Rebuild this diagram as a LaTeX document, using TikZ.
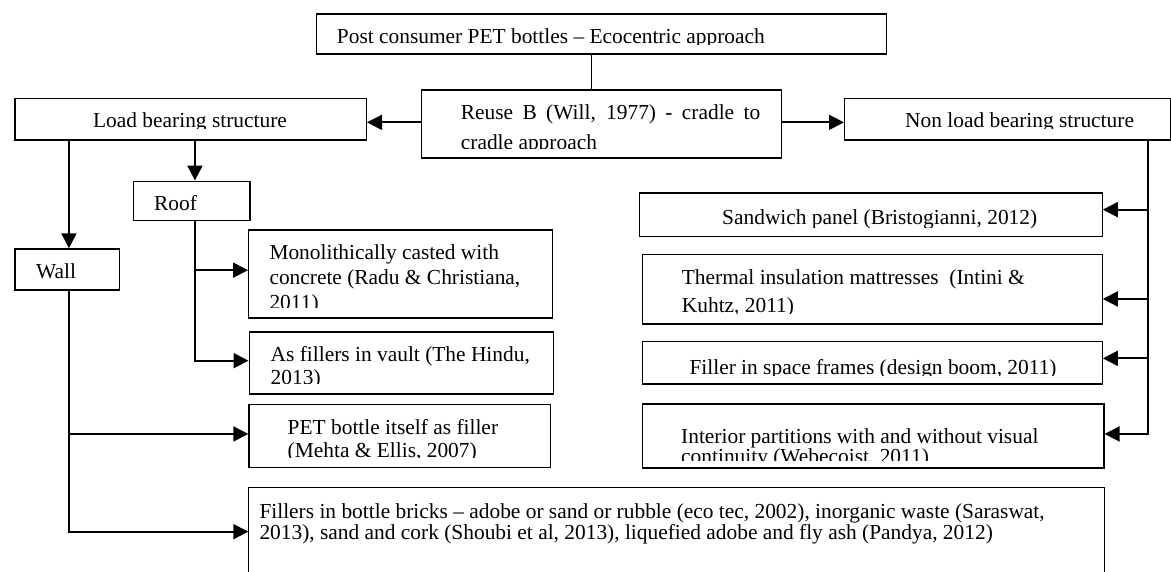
\documentclass[tikz,border=0pt]{standalone}
\usepackage{fontspec}
\setmainfont{Liberation Serif}
\usetikzlibrary{arrows.meta}
\tikzset{
  box/.style={draw, line width=1.3pt, inner sep=0pt, anchor=north west},
  conn/.style={line width=1.6pt},
  arr/.style={line width=1.9pt, -{Triangle[length=15pt,width=15pt]}},
  txt/.style={inner sep=0pt, anchor=base west, font=\fontsize{21.4}{24}\selectfont},
}
\newcommand{\mylines}[2]{\parbox[t]{840pt}{\raggedright\fontsize{21.4}{#1}\selectfont #2}}
\begin{document}
\begin{tikzpicture}[x=1pt,y=-1pt]
\path[fill=white,use as bounding box] (0,0) rectangle (1171,571);

% boxes
\node[box, minimum width=570.3pt, minimum height=40pt]   (top)      at (315.7,13.3) {};
\node[box, minimum width=360.3pt, minimum height=68pt]   (reuse)    at (420.7,89.3) {};
\node[box, minimum width=351.4pt, minimum height=41.6pt] (load)     at (14.3,97.7) {};
\node[box, minimum width=325.5pt, minimum height=41.6pt] (nonload)  at (844,97.7) {};
\node[box, minimum width=116.3pt, minimum height=39.5pt] (roof)     at (133,180.5) {};
\node[box, minimum width=104.2pt, minimum height=41pt]   (wall)     at (14.3,248.3) {};
\node[box, minimum width=303.7pt, minimum height=88pt]   (mono)     at (248,229.3) {};
\node[box, minimum width=304pt,   minimum height=62pt]   (hindu)    at (248.5,331.3) {};
\node[box, minimum width=301.7pt, minimum height=63pt]   (pet)      at (248.3,404) {};
\node[box, draw=none, minimum width=855pt, minimum height=83.7pt] (fillers) at (248.3,487.3) {};
\draw[line width=1.3pt] (fillers.south west) -- (fillers.north west) -- (fillers.north east) -- (fillers.south east);
\node[box, minimum width=463pt,   minimum height=43.7pt] (sandwich) at (638.5,192.3) {};
\node[box, minimum width=460pt,   minimum height=69.3pt] (thermal)  at (641.5,254) {};
\node[box, minimum width=460pt,   minimum height=42.6pt] (filler)   at (641.5,340.7) {};
\node[box, minimum width=461.8pt, minimum height=64pt]   (interior) at (641.5,403.3) {};

% texts
\begin{scope}\clip (315.7,13.3) rectangle (886,44.8);
\node[txt] (ttop) at (336.7,43.4) {Post consumer PET bottles – Ecocentric approach};
\end{scope}
\begin{scope}\clip (420.7,89.3) rectangle (781,148.8);
\node[txt] (treuse) at (460.7,119.3) {\parbox[t]{300pt}{\fontsize{21.4}{30}\selectfont\makebox[299.3pt][s]{Reuse B (Will, 1977) - cradle to}\\cradle approach}};
\end{scope}
\begin{scope}\clip (14.3,97.7) rectangle (365.7,128.8);
\node[txt, anchor=base] (tload) at (190,127.6) {Load bearing structure};
\end{scope}
\begin{scope}\clip (844,97.7) rectangle (1169.5,128.8);
\node[txt] (tnon) at (905,127.6) {Non load bearing structure};
\end{scope}
\node[txt] (troof) at (154,210) {Roof};
\node[txt] (twall) at (36,278.3) {Wall};
\begin{scope}\clip (248,229.3) rectangle (551.7,307);
\node[txt] (tmono) at (269.3,259) {\mylines{25}{Monolithically casted with\\concrete (Radu \& Christiana,\\2011)}};
\end{scope}
\begin{scope}\clip (248.5,331.3) rectangle (552.5,383.5);
\node[txt] (thindu) at (270.5,361.3) {\mylines{23.5}{As fillers in vault (The Hindu,\\2013)}};
\end{scope}
\begin{scope}\clip (248.3,404) rectangle (550,457.5);
\node[txt] (tpet) at (287.5,434.3) {\mylines{23}{PET bottle itself as filler\\(Mehta \& Ellis, 2007)}};
\end{scope}
\node[txt] (tfillers) at (259.3,518.3) {\mylines{21.5}{Fillers in bottle bricks – adobe or sand or rubble (eco tec, 2002), inorganic waste (Saraswat,\\2013), sand and cork (Shoubi et al, 2013), liquefied adobe and fly ash (Pandya, 2012)}};
\begin{scope}\clip (638.5,192.3) rectangle (1101.5,227.3);
\node[txt] (tsandwich) at (722,224.5) {Sandwich panel (Bristogianni, 2012)};
\end{scope}
\begin{scope}\clip (641.5,254) rectangle (1101.5,313);
\node[txt] (tthermal) at (681.7,284.3) {\mylines{28.5}{Thermal insulation mattresses\ \ (Intini \&\\Kuhtz, 2011)}};
\end{scope}
\begin{scope}\clip (641.5,340.7) rectangle (1101.5,375.2);
\node[txt] (tfiller) at (689.3,374.3) {Filler in space frames (design boom, 2011)};
\end{scope}
\begin{scope}\clip (641.5,403.3) rectangle (1103.3,460);
\node[txt] (tinterior) at (681,443.3) {\mylines{20.5}{Interior partitions with and without visual\\continuity (Webecoist, 2011)}};
\end{scope}

% connectors
\draw[conn] ([xshift=-9.85pt]top.south) -- ([xshift=-9.85pt]top.south |- reuse.north);
\draw[arr] ([yshift=1.6pt]reuse.west) -- ([yshift=1.6pt]reuse.west -| load.east);
\draw[arr] ([yshift=1.6pt]reuse.east) -- ([yshift=1.6pt]reuse.east -| nonload.west);
\draw[arr] ([xshift=1.9pt]wall.north |- load.south) -- ([xshift=1.9pt]wall.north);
\draw[arr] ([xshift=3.15pt]roof.north |- load.south) -- ([xshift=3.15pt]roof.north);
\draw[arr] ([xshift=3.15pt]roof.south) |- ([yshift=3.8pt]mono.west);
\draw[arr] ([xshift=3.15pt]roof.south) |- ([yshift=2.3pt]hindu.west);
\draw[arr] ([xshift=1.9pt]wall.south) |- ([yshift=2.2pt]pet.west);
\draw[arr] ([xshift=1.9pt]wall.south) |- ([yshift=-1.85pt]fillers.west);
\draw[arr] ([xshift=140.75pt]nonload.south) |- ([yshift=5.15pt]sandwich.east);
\draw[arr] ([xshift=140.75pt]nonload.south) |- ([yshift=-9.65pt]thermal.east);
\draw[arr] ([xshift=140.75pt]nonload.south) |- ([yshift=4.3pt]filler.east);
\draw[arr] ([xshift=140.75pt]nonload.south) |- ([yshift=2pt]interior.east);
\end{tikzpicture}
\end{document}
